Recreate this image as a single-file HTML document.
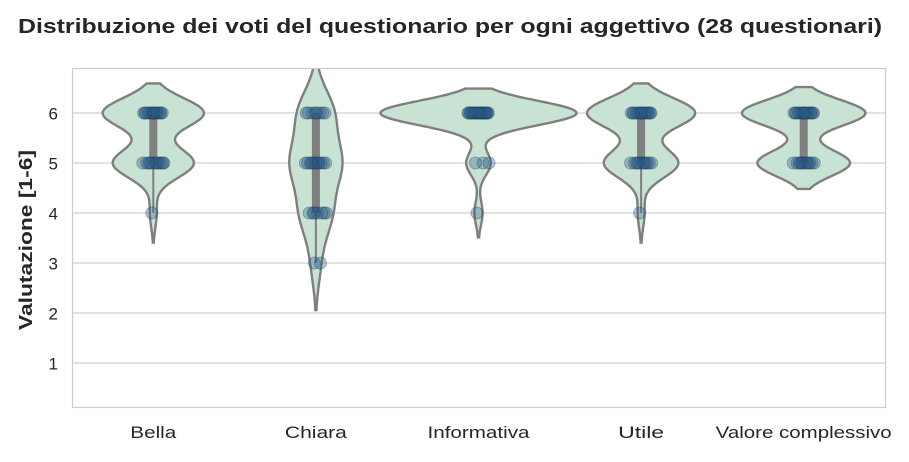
<!DOCTYPE html>
<html><head><meta charset="utf-8"><style>
body{margin:0;background:#fff;}
svg text{font-family:"Liberation Sans","DejaVu Sans",sans-serif;fill:#262626;}
</style></head><body>
<svg id="c" width="909" height="457" viewBox="0 0 909 457">
<text x="18" y="33" font-size="20" font-weight="bold" textLength="864" lengthAdjust="spacingAndGlyphs">Distribuzione dei voti del questionario per ogni aggettivo (28 questionari)</text>
<text transform="translate(32,240) rotate(-90)" text-anchor="middle" font-size="18" font-weight="bold" textLength="180" lengthAdjust="spacingAndGlyphs">Valutazione [1-6]</text>
<g id="grid"></g><g id="violins"></g><g id="pts"></g>
<rect x="72.5" y="68.5" width="813" height="339" fill="none" stroke="#cccccc" stroke-width="1.2"/>
<g id="labels"></g>
</svg>
<script>
const categories=["Bella","Chiara","Informativa","Utile","Valore complessivo"];
const labelWidths=[46,62,102,46,176];
const count6=[15,8,24,16,16];
const count5=[12,11,3,11,12];
const count4=[1,7,1,1,0];
const count3=[0,2,0,0,0];
const yTicks=[1,2,3,4,5,6];
const ns="http://www.w3.org/2000/svg";
const X0=72,X1=885,Y0=68,Y1=407,YMIN=0.12,YMAX=6.9;
const yS=v=>Y1-(v-YMIN)/(YMAX-YMIN)*(Y1-Y0);
const band=(X1-X0)/categories.length;
const xS=i=>X0+band*(i+0.5);
function mk(t,a,p){const e=document.createElementNS(ns,t);for(const k in a)e.setAttribute(k,a[k]);p.appendChild(e);return e;}
const G=document.getElementById('grid'),V=document.getElementById('violins'),P=document.getElementById('pts'),L=document.getElementById('labels');
yTicks.forEach(t=>{
 const l=mk('line',{x1:X0,x2:X1,y1:yS(t),y2:yS(t),stroke:'#d0d0d0','stroke-width':1.3},G);
 
 
 const tx=mk('text',{x:X0-14,y:yS(t)+6.5,'text-anchor':'end','font-size':17},L);
 tx.textContent=t;
 
 
});
const datasets=categories.map((c,i)=>{const d=[];
 for(let k=0;k<count6[i];k++)d.push(6);for(let k=0;k<count5[i];k++)d.push(5);
 for(let k=0;k<count4[i];k++)d.push(4);for(let k=0;k<count3[i];k++)d.push(3);return d.sort((a,b)=>a-b);});
const kdes=datasets.map(d=>{const n=d.length,m=d.reduce((a,b)=>a+b)/n;
 const sd=Math.sqrt(d.reduce((a,b)=>a+(b-m)*(b-m),0)/(n-1));const bw=sd*Math.pow(n,-0.2);
 const lo=d[0]-2*bw,hi=d[n-1]+2*bw;const pts=[];
 for(let s=0;s<=120;s++){const y=lo+(hi-lo)*s/120;let den=0;d.forEach(v=>{const z=(y-v)/bw;den+=Math.exp(-z*z/2);});pts.push([y,den/(n*bw)]);}
 return pts;});
const gmax=Math.max(...kdes.map(k=>Math.max(...k.map(p=>p[1]))));
const HW=98;
function q(d,p){const pos=(d.length-1)*p,b=Math.floor(pos),r=pos-b;return d[b]+(d[b+1]!==undefined?r*(d[b+1]-d[b]):0);}
const jit=[-0.1,0.3,-0.2,0.7,0.1,-0.45,0.55,-0.1,0.4,-0.7,0.2,-0.3,0.65,0,-0.55,0.35,-0.15,0.5,-0.35,0.15,0.6,-0.65,0.25,-0.25,0.45,-0.05,0.05,-0.5];
categories.forEach((c,i)=>{
 const cx=xS(i),k=kdes[i];
 const clip=mk('clipPath',{id:'cl'+i},V);mk('rect',{x:X0,y:Y0,width:X1-X0,height:Y1-Y0},clip);
 let dstr='';k.forEach((p,j)=>{dstr+=(j?'L':'M')+(cx+p[1]/gmax*HW).toFixed(1)+','+yS(p[0]).toFixed(1);});
 for(let j=k.length-1;j>=0;j--)dstr+='L'+(cx-k[j][1]/gmax*HW).toFixed(1)+','+yS(k[j][0]).toFixed(1);
 const v=mk('path',{d:dstr+'Z',fill:'#c8e3d3',stroke:'#7f7f7f','stroke-width':2.4,'clip-path':'url(#cl'+i+')'},V);
 
 
 const d=datasets[i],q1=q(d,0.25),q3=q(d,0.75),iqr=q3-q1;
 const wlo=Math.min(...d.filter(x=>x>=q1-1.5*iqr)),whi=Math.max(...d.filter(x=>x<=q3+1.5*iqr));
 const w=mk('line',{x1:cx,x2:cx,y1:yS(wlo),y2:yS(whi),stroke:'#7f7f7f','stroke-width':2},V);
 
 
 const b=mk('line',{x1:cx,x2:cx,y1:yS(q1),y2:yS(q3),stroke:'#7f7f7f','stroke-width':8},V);
 
 
 d.forEach((val,j)=>{const pt=mk('circle',{cx:cx+jit[j%jit.length]*15,cy:yS(val),r:6,fill:'#2a5a88','fill-opacity':0.33,stroke:'#1a3a5a','stroke-opacity':0.35},P);
  
  });
 const tx=mk('text',{x:cx,y:438,'text-anchor':'middle','font-size':17,textLength:labelWidths[i],lengthAdjust:'spacingAndGlyphs'},L);tx.textContent=c;
 
 
});
</script>
</body></html>
